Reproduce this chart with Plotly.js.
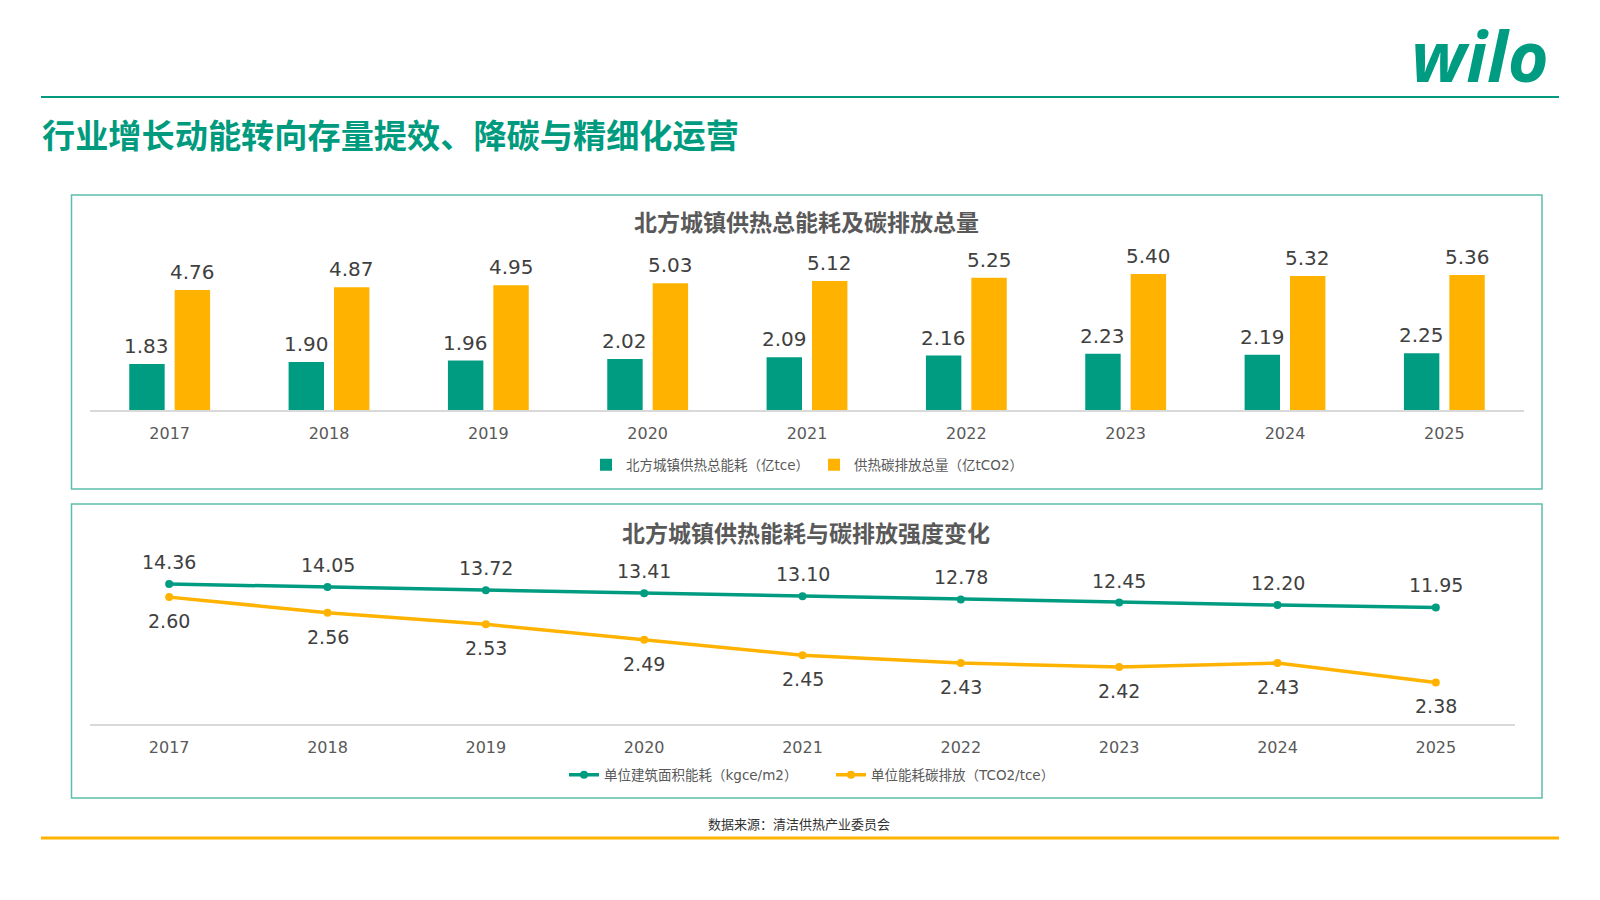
<!DOCTYPE html>
<html>
<head>
<meta charset="utf-8">
<script src="https://cdn.plot.ly/plotly-3.0.1.min.js"></script>
<style>
  html, body { margin: 0; padding: 0; background: #ffffff; }
  #chart { width: 1600px; height: 900px; }
</style>
</head>
<body>
<div id="chart"></div>
<script>
// ---- data ----
const years = ['2017', '2018', '2019', '2020', '2021', '2022', '2023', '2024', '2025'];
const energyTotal = [1.83, 1.90, 1.96, 2.02, 2.09, 2.16, 2.23, 2.19, 2.25];
const carbonTotal = [4.76, 4.87, 4.95, 5.03, 5.12, 5.25, 5.40, 5.32, 5.36];
const energyIntensity = [14.36, 14.05, 13.72, 13.41, 13.10, 12.78, 12.45, 12.20, 11.95];
const carbonIntensity = [2.60, 2.56, 2.53, 2.49, 2.45, 2.43, 2.42, 2.43, 2.38];

const seriesNames = {
  energyTotal: '北方城镇供热总能耗（亿tce）',
  carbonTotal: '供热碳排放总量（亿tCO2）',
  energyIntensity: '单位建筑面积能耗（kgce/m2）',
  carbonIntensity: '单位能耗碳排放（TCO2/tce）'
};
const pageTitle = '行业增长动能转向存量提效、降碳与精细化运营';
const barTitle = '北方城镇供热总能耗及碳排放总量';
const lineTitle = '北方城镇供热能耗与碳排放强度变化';
const sourceText = '数据来源：清洁供热产业委员会';
const logoText = 'wilo';

// ---- styles ----
const GREEN = '#009C82';
const ORANGE = '#FFB300';
const W = 1600, H = 900;
const px = x => x / W;
const py = y => 1 - y / H;
const FONT = 'DejaVu Sans, Noto Sans CJK SC, sans-serif';
const CJK = 'Noto Sans CJK SC, sans-serif';

const traces = [
  {
    type: 'bar', x: years, y: energyTotal, name: seriesNames.energyTotal,
    xaxis: 'x', yaxis: 'y', legend: 'legend',
    marker: { color: GREEN }, hoverinfo: 'skip'
  },
  {
    type: 'bar', x: years, y: carbonTotal, name: seriesNames.carbonTotal,
    xaxis: 'x', yaxis: 'y', legend: 'legend',
    marker: { color: ORANGE }, hoverinfo: 'skip'
  },
  {
    type: 'scatter', mode: 'lines+markers', x: years, y: energyIntensity,
    name: seriesNames.energyIntensity, xaxis: 'x2', yaxis: 'y2', legend: 'legend2',
    line: { color: GREEN, width: 3.5 }, marker: { color: GREEN, size: 8 },
    cliponaxis: false, hoverinfo: 'skip'
  },
  {
    type: 'scatter', mode: 'lines+markers', x: years, y: carbonIntensity,
    name: seriesNames.carbonIntensity, xaxis: 'x2', yaxis: 'y3', legend: 'legend2',
    line: { color: ORANGE, width: 3.5 }, marker: { color: ORANGE, size: 8 },
    cliponaxis: false, hoverinfo: 'skip'
  }
];

// value labels placed through the axes (category index) from the data arrays
const labelAnn = [];
years.forEach((yr, i) => {
  labelAnn.push({ xref: 'x', yref: 'y', x: i, y: energyTotal[i], xshift: -22.7, yshift: 18,
    text: energyTotal[i].toFixed(2), showarrow: false, xanchor: 'center', yanchor: 'middle',
    font: { family: FONT, size: 20, color: '#404040' } });
  labelAnn.push({ xref: 'x', yref: 'y', x: i, y: carbonTotal[i], xshift: 22.7, yshift: 18,
    text: carbonTotal[i].toFixed(2), showarrow: false, xanchor: 'center', yanchor: 'middle',
    font: { family: FONT, size: 20, color: '#404040' } });
  labelAnn.push({ xref: 'x2', yref: 'y2', x: i, y: energyIntensity[i], yshift: 22,
    text: energyIntensity[i].toFixed(2), showarrow: false, xanchor: 'center', yanchor: 'middle',
    font: { family: FONT, size: 19, color: '#404040' } });
  labelAnn.push({ xref: 'x2', yref: 'y3', x: i, y: carbonIntensity[i], yshift: -24,
    text: carbonIntensity[i].toFixed(2), showarrow: false, xanchor: 'center', yanchor: 'middle',
    font: { family: FONT, size: 19, color: '#404040' } });
});

const xAxisStyle = {
  type: 'category', showgrid: false, zeroline: false,
  showline: true, linecolor: '#D9D9D9', linewidth: 1.5,
  ticks: '', ticklabelstandoff: 8, range: [-0.5, years.length - 0.5],
  tickfont: { family: FONT, size: 16, color: '#595959' },
  fixedrange: true
};
const hiddenY = { showgrid: false, zeroline: false, showline: false, showticklabels: false, ticks: '', fixedrange: true };

const layout = {
  width: W, height: H,
  margin: { l: 0, r: 0, t: 0, b: 0 },
  paper_bgcolor: '#ffffff', plot_bgcolor: 'rgba(0,0,0,0)',
  font: { family: FONT, color: '#595959' },
  barmode: 'group', bargap: 0.43, bargroupgap: 0.22,
  showlegend: true,
  xaxis: Object.assign({}, xAxisStyle, { domain: [px(90), px(1524)], anchor: 'y' }),
  yaxis: Object.assign({}, hiddenY, { domain: [py(410), py(250)], range: [0, 160 / 25.2], anchor: 'x' }),
  xaxis2: Object.assign({}, xAxisStyle, { domain: [px(90), px(1515)], anchor: 'y2' }),
  yaxis2: Object.assign({}, hiddenY, { domain: [py(724), py(544)], range: [0, 180 / 9.75], anchor: 'x2' }),
  yaxis3: Object.assign({}, hiddenY, { overlaying: 'y2', range: [2.273, 2.273 + 180 / 388], anchor: 'x2' }),
  legend: {
    orientation: 'h', x: px(807), xanchor: 'center', y: py(465), yanchor: 'middle',
    font: { family: FONT, size: 13.5, color: '#595959' }, bgcolor: 'rgba(0,0,0,0)',
    itemclick: false, itemdoubleclick: false
  },
  legend2: {
    orientation: 'h', x: px(831), xanchor: 'center', y: py(775), yanchor: 'middle',
    font: { family: FONT, size: 13.5, color: '#595959' }, bgcolor: 'rgba(0,0,0,0)',
    entrywidth: 222, entrywidthmode: 'pixels',
    itemclick: false, itemdoubleclick: false
  },
  shapes: [
    { type: 'line', xref: 'paper', yref: 'paper', x0: px(41), x1: px(1559), y0: py(97), y1: py(97),
      line: { color: '#009B7E', width: 2 } },
    { type: 'rect', xref: 'paper', yref: 'paper', x0: px(71.5), x1: px(1542), y0: py(195), y1: py(489),
      line: { color: '#5CBFAB', width: 1.5 } },
    { type: 'rect', xref: 'paper', yref: 'paper', x0: px(71.5), x1: px(1542), y0: py(504), y1: py(798),
      line: { color: '#5CBFAB', width: 1.5 } },
    { type: 'line', xref: 'paper', yref: 'paper', x0: px(41), x1: px(1559), y0: py(838), y1: py(838),
      line: { color: '#FFB400', width: 3 } }
  ],
  annotations: [
    { xref: 'paper', yref: 'paper', x: px(1551), y: py(55), xanchor: 'right', yanchor: 'middle',
      text: '<b><i>' + logoText + '</i></b>', showarrow: false,
      font: { family: 'Open Sans, sans-serif', size: 70, color: GREEN } },
    { xref: 'paper', yref: 'paper', x: px(40), y: py(133), xanchor: 'left', yanchor: 'middle',
      text: pageTitle, showarrow: false,
      font: { family: CJK, size: 33.2, color: '#009B7E', weight: 'bold' } },
    { xref: 'paper', yref: 'paper', x: px(806), y: py(221), xanchor: 'center', yanchor: 'middle',
      text: barTitle, showarrow: false,
      font: { family: CJK, size: 23, color: '#595959', weight: 'bold' } },
    { xref: 'paper', yref: 'paper', x: px(806), y: py(532), xanchor: 'center', yanchor: 'middle',
      text: lineTitle, showarrow: false,
      font: { family: CJK, size: 23, color: '#595959', weight: 'bold' } },
    { xref: 'paper', yref: 'paper', x: px(799), y: py(823), xanchor: 'center', yanchor: 'middle',
      text: sourceText, showarrow: false,
      font: { family: CJK, size: 13, color: '#333333' } }
  ].concat(labelAnn)
};

Plotly.newPlot('chart', traces, layout, { staticPlot: true, displayModeBar: false });
</script>
</body>
</html>
